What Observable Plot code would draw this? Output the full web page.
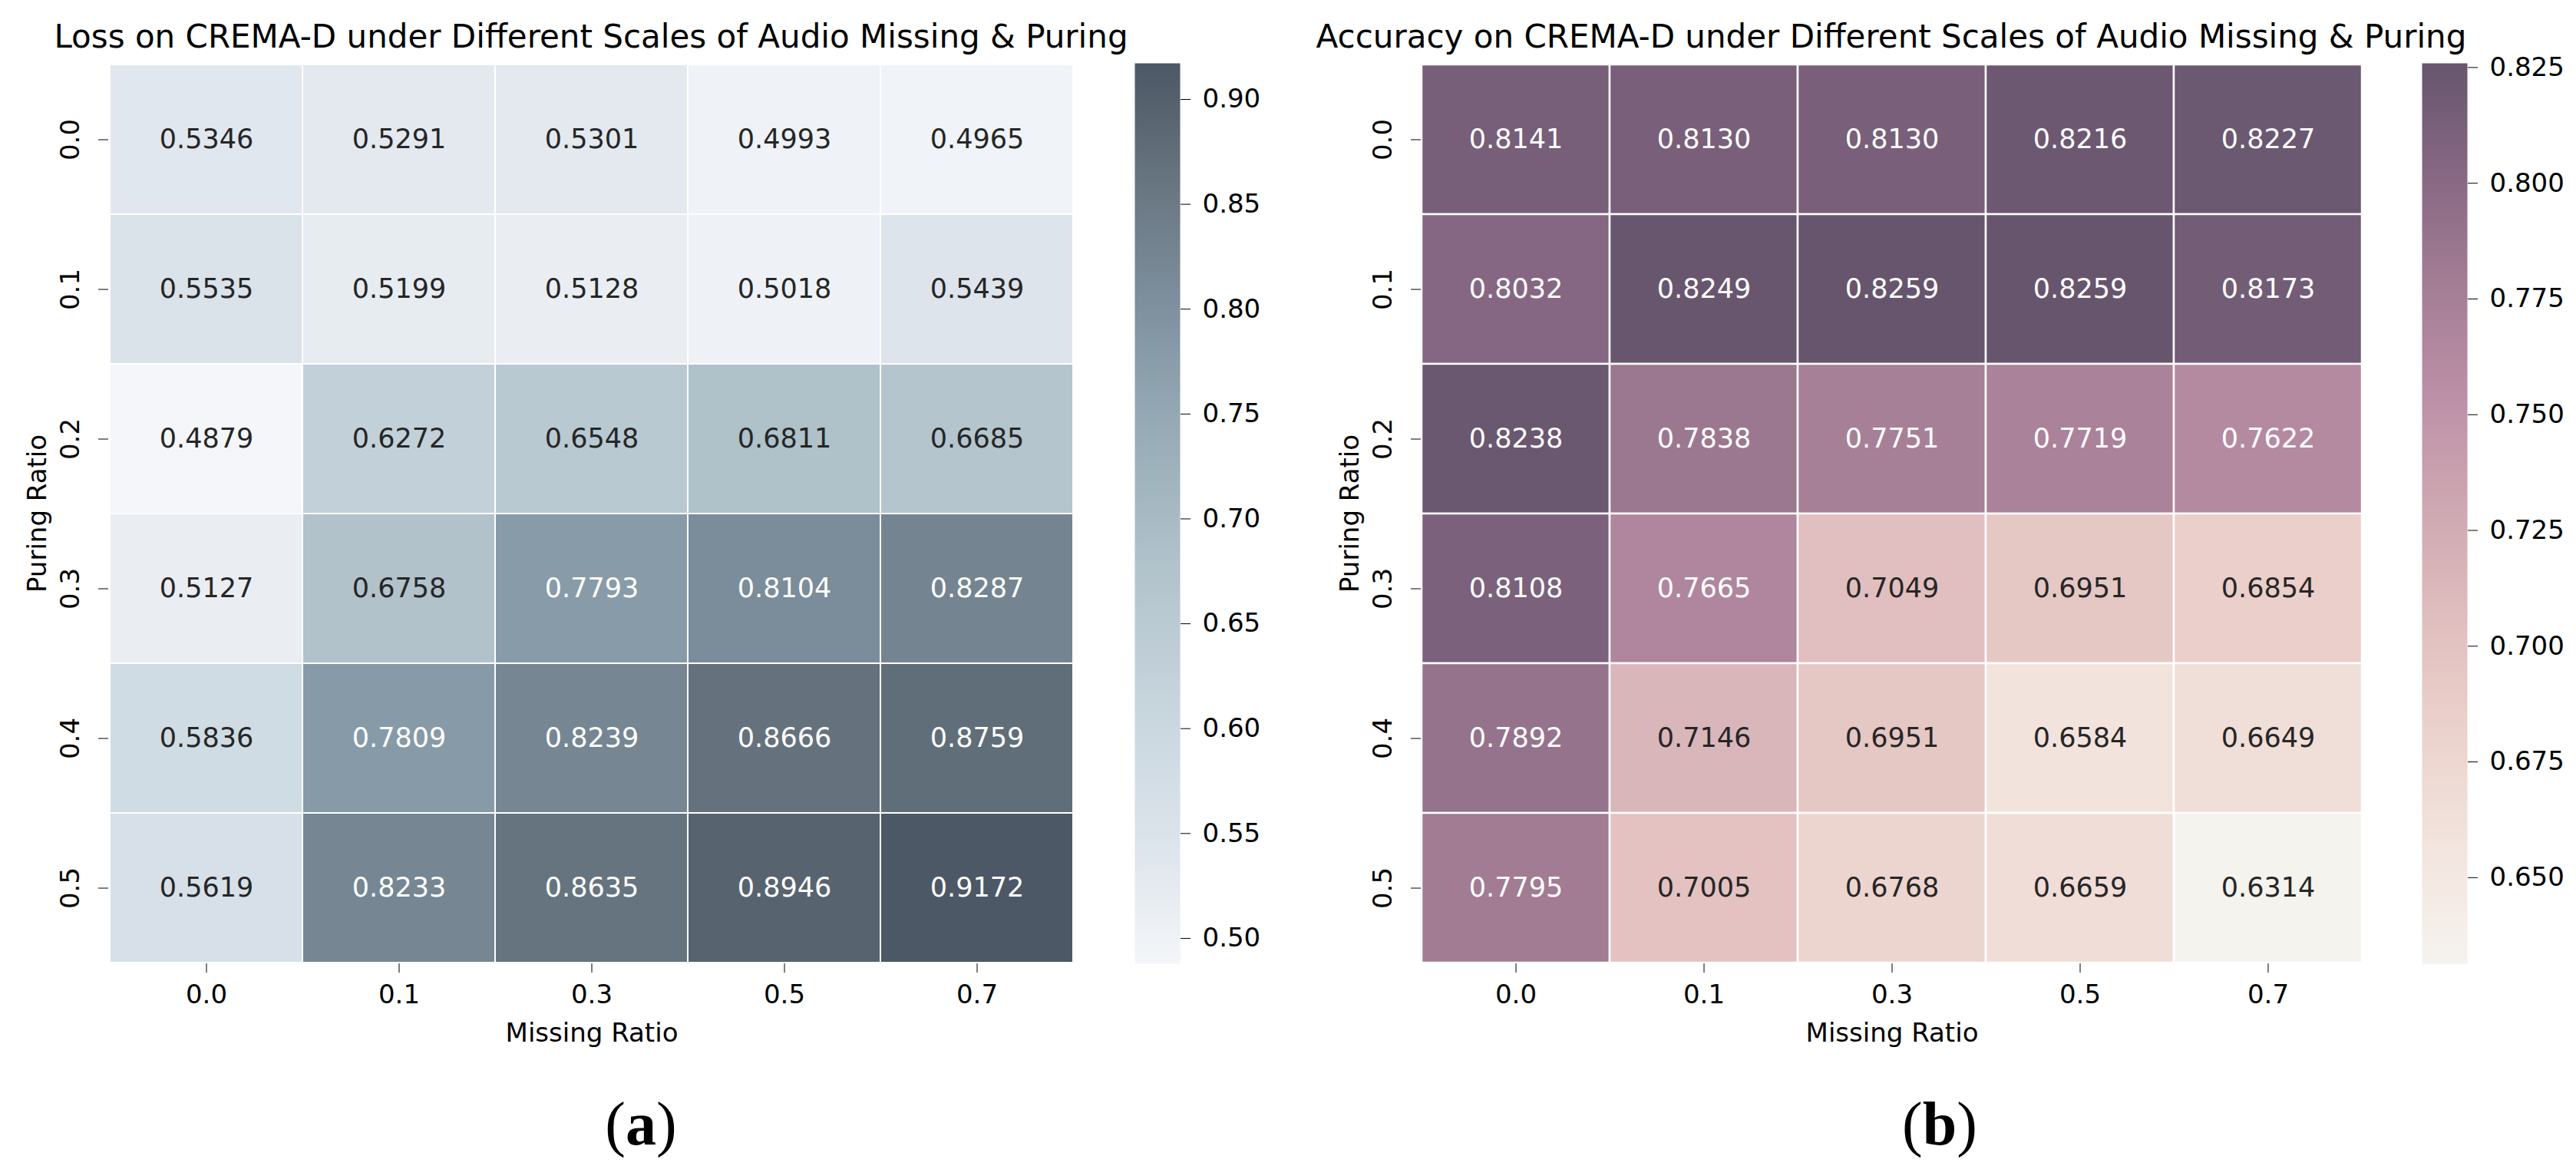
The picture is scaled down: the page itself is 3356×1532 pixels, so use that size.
<!DOCTYPE html>
<html><head><meta charset="utf-8">
<script src="https://cdn.jsdelivr.net/npm/d3@7"></script>
<script src="https://cdn.jsdelivr.net/npm/@observablehq/plot@0.6"></script>
<style>
body{margin:0;background:#fff;}
#root{position:relative;width:3356px;height:1532px;font-family:"DejaVu Sans";background:#fff;overflow:hidden;}
.title{position:absolute;font-family:"DejaVu Sans";font-size:42px;line-height:1;white-space:nowrap;transform:translateX(-50%);color:#000;}
.sub{position:absolute;font-family:"Liberation Serif";font-size:80px;line-height:1;white-space:nowrap;transform:translateX(-50%);color:#000;}
</style></head><body><div id="root"></div>
<script>
// ---------- data ----------
const missingRatios = ["0.0", "0.1", "0.3", "0.5", "0.7"];
const puringRatios = ["0.0", "0.1", "0.2", "0.3", "0.4", "0.5"];
const lossValues = [
  [0.5346, 0.5291, 0.5301, 0.4993, 0.4965],
  [0.5535, 0.5199, 0.5128, 0.5018, 0.5439],
  [0.4879, 0.6272, 0.6548, 0.6811, 0.6685],
  [0.5127, 0.6758, 0.7793, 0.8104, 0.8287],
  [0.5836, 0.7809, 0.8239, 0.8666, 0.8759],
  [0.5619, 0.8233, 0.8635, 0.8946, 0.9172]
];
const accValues = [
  [0.8141, 0.8130, 0.8130, 0.8216, 0.8227],
  [0.8032, 0.8249, 0.8259, 0.8259, 0.8173],
  [0.8238, 0.7838, 0.7751, 0.7719, 0.7622],
  [0.8108, 0.7665, 0.7049, 0.6951, 0.6854],
  [0.7892, 0.7146, 0.6951, 0.6584, 0.6649],
  [0.7795, 0.7005, 0.6768, 0.6659, 0.6314]
];
const lossTicks = [0.50, 0.55, 0.60, 0.65, 0.70, 0.75, 0.80, 0.85, 0.90];
const accTicks = [0.650, 0.675, 0.700, 0.725, 0.750, 0.775, 0.800, 0.825];
const lossColors = ["#f4f6f9", "#dee5ec", "#ccd9e1", "#bbcbd3", "#a7bac3", "#91a6b2", "#7b8c9a", "#66747f", "#4c5865"];
const accColors = ["#f5f3ee", "#f3e5df", "#ecd3cd", "#e1bfbf", "#cfa9b2", "#bd91a8", "#a47e95", "#886884", "#67556e"];
const lossTitle = "Loss on CREMA-D under Different Scales of Audio Missing & Puring";
const accTitle = "Accuracy on CREMA-D under Different Scales of Audio Missing & Puring";

// ---------- helpers ----------
const H = 1380, MT = 82, MB = 125;
const FONT = "DejaVu Sans";
function lin(c) { c /= 255; return c <= 0.03928 ? c / 12.92 : Math.pow((c + 0.055) / 1.055, 2.4); }
function textColorFor(col) {
  const c = d3.rgb(col);
  const l = 0.2126 * lin(c.r) + 0.7152 * lin(c.g) + 0.0722 * lin(c.b);
  return l > 0.408 ? "#262626" : "#ffffff";
}
function place(el, left, top) {
  el.style.position = "absolute"; el.style.left = left + "px"; el.style.top = top + "px";
  document.getElementById("root").appendChild(el);
}

function heatmap({values, colors, left, marginLeft, frameW, strokeWidth}) {
  const flat = values.flat();
  const min = d3.min(flat), max = d3.max(flat);
  const interp = d3.piecewise(d3.interpolateRgb, colors);
  const colorOf = v => interp((v - min) / (max - min));
  const data = [];
  puringRatios.forEach((p, i) => missingRatios.forEach((m, j) => data.push({p, m, v: values[i][j]})));
  const marginRight = 40;
  const chart = Plot.plot({
    width: marginLeft + frameW + marginRight, height: H,
    marginLeft, marginRight, marginTop: MT, marginBottom: MB,
    style: {fontFamily: FONT, fontSize: "34px", color: "#000", background: "transparent", overflow: "visible"},
    x: {domain: missingRatios, padding: 0},
    y: {domain: puringRatios, padding: 0},
    color: {type: "linear", domain: [min, max], interpolate: interp},
    marks: [
      Plot.cell(data, {x: "m", y: "p", fill: "v", stroke: "white", strokeWidth, inset: 0}),
      Plot.text(data, {x: "m", y: "p", text: d => d.v.toFixed(4),
        fill: {value: d => textColorFor(colorOf(d.v)), scale: null}, fontSize: 35}),
      Plot.axisX({anchor: "bottom", tickSize: 12, tickPadding: 15, fontSize: 34, label: "Missing Ratio",
        labelAnchor: "center", labelOffset: 101}),
      Plot.axisY({anchor: "left", tickSize: 13, tickPadding: 26, tickRotate: -90, fontSize: 34, label: "Puring Ratio",
        labelAnchor: "center", labelOffset: 106})
    ]
  });
  place(chart, left, 0);
  return {min, max, interp};
}

function colorbar({min, max, interp, ticks, fmt, left, marginLeft}) {
  const chart = Plot.plot({
    width: marginLeft + 59 + 150, height: H,
    marginLeft, marginRight: 150, marginTop: MT, marginBottom: MB,
    style: {fontFamily: FONT, fontSize: "34px", color: "#000", background: "transparent", overflow: "visible"},
    x: {domain: [0, 1], axis: null},
    y: {domain: [min, max]},
    color: {type: "linear", domain: [min, max], interpolate: interp},
    marks: [
      Plot.raster({x1: 0, x2: 1, y1: min, y2: max, width: 1, height: 600, fill: (x, y) => y, imageRendering: "auto"}),
      Plot.axisY({anchor: "right", ticks, tickFormat: fmt, tickSize: 13, tickPadding: 16, fontSize: 34, label: null})
    ]
  });
  place(chart, left, 0);
}

function addText(cls, html, x, top) {
  const d = document.createElement("div");
  d.className = cls; d.innerHTML = html;
  d.style.left = x + "px"; d.style.top = top + "px";
  document.getElementById("root").appendChild(d);
}

// ---------- panel (a) ----------
const a = heatmap({values: lossValues, colors: lossColors, left: 0, marginLeft: 141, frameW: 1259, strokeWidth: 2});
colorbar({...a, ticks: lossTicks, fmt: d3.format(".2f"), left: 1440, marginLeft: 38});
addText("title", lossTitle.replace("&", "&amp;"), 770, 27);
addText("sub", "(<b>a</b>)", 835, 1424);

// ---------- panel (b) ----------
const b = heatmap({values: accValues, colors: accColors, left: 1680, marginLeft: 171, frameW: 1227, strokeWidth: 2.5});
colorbar({...b, ticks: accTicks, fmt: d3.format(".3f"), left: 3120, marginLeft: 35});
addText("title", accTitle.replace("&", "&amp;"), 2464, 27);
addText("sub", "(<b>b</b>)", 2527, 1424);
</script>
</body></html>
